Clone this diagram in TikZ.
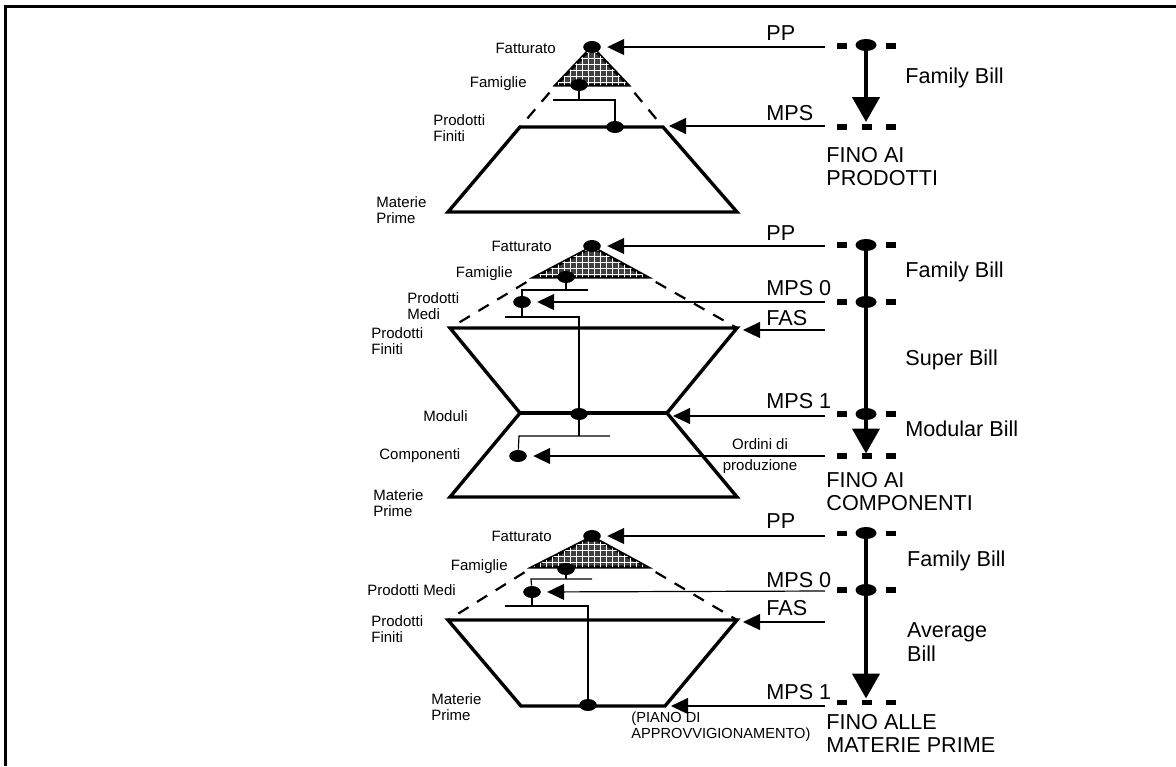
\documentclass[tikz,border=0pt]{standalone}
\usepackage{fontspec}
\setmainfont{Liberation Sans}
\usetikzlibrary{arrows.meta,shapes.geometric,patterns}

\begin{document}
\begin{tikzpicture}[x=0.5pt,y=-0.5pt,
  bomnode/.style={ellipse,fill=black,inner sep=0pt,minimum width=8.8pt,minimum height=6pt},
  railnode/.style={ellipse,fill=black,inner sep=0pt,minimum width=10.5pt,minimum height=6pt},
  lbl/.style={inner sep=0pt,font=\fontsize{7.5}{8}\selectfont,align=left},
  big/.style={inner sep=0pt,font=\fontsize{10.8}{11.6}\selectfont,align=left},
  layer/.style={line width=1.7pt,line join=miter},
  hiddenline/.style={line width=1.1pt,dash pattern=on 6pt off 5pt,dash phase=6pt},
  conn/.style={line width=0.6pt},
  feed/.style={line width=0.6pt,-{Triangle[length=8.5pt,width=8pt]},shorten >=3pt},
  bardash/.style={line width=2.6pt,dash pattern=on 5pt off 7.25pt},
  flow/.style={line width=2.2pt,-{Triangle[length=12.5pt,width=13.5pt]}},
  hatch/.style={draw=black,line width=1.5pt,fill=black!75,postaction={pattern=grid,pattern color=white}}]
\useasboundingbox (0,0) rectangle (1176,766);
\draw[line width=1.6pt] (5.5,766) -- (5.5,6.5) -- (1176,6.5);

\filldraw[hatch] (592,47) -- (628,85) -- (556,85) -- cycle;
\coordinate (t1a) at (520,127);
\coordinate (t1b) at (663,127);
\coordinate (t1c) at (737,212);
\coordinate (t1d) at (448,212);
\draw[hiddenline] (556,85) -- (t1a);
\draw[hiddenline] (628,85) -- (t1b);
\draw[layer] (t1a) -- (t1b) -- (t1c) -- (t1d) -- cycle;

\node[bomnode] (fat1) at (592,47) {};
\node[bomnode] (fam1) at (579,85) {};
\node[bomnode] (pf1) at (615,127) {};
\coordinate (b1l) at (553,100);
\coordinate (b1r) at (615,100);
\draw[conn] (fam1) -- (fam1 |- b1l);
\draw[conn] (b1l) -- (b1r) -- (pf1);

\node[lbl,anchor=east] (l1fat) at (556,48) {Fatturato};
\node[lbl,anchor=east] (l1fam) at (527,84) {Famiglie};
\node[lbl,anchor=west] (l1pf) at (433,128.4) {Prodotti\\Finiti};
\node[lbl,anchor=west] (l1mp) at (376,210.5) {Materie\\Prime};

\coordinate (a1pp) at (825,47);
\coordinate (a1mps) at (825,126);
\draw[feed] (a1pp) -- (fat1);
\draw[feed] (a1mps) -- (a1mps -| t1b);
\node[big,anchor=base west] (l1pp) at (766,40) {PP};
\node[big,anchor=base west] (l1mps) at (766,120.7) {MPS};

\draw[bardash] (837,46) -- (897,46);
\draw[bardash] (837,127) -- (897,127);
\node[railnode] (r1a) at (866,45) {};
\coordinate (r1end) at (866,122);
\draw[flow] (r1a.center) -- (r1end);
\node[big,anchor=west] (l1fb) at (905,78) {Family Bill};
\node[big,anchor=west] (l1fino) at (826,166.5) {FINO AI\\PRODOTTI};

\filldraw[hatch] (592,247) -- (647,277) -- (535,277) -- cycle;
\coordinate (t2a) at (450,328);
\coordinate (t2b) at (737,328);
\coordinate (t2c) at (667,413);
\coordinate (t2d) at (737,497);
\coordinate (t2e) at (450,497);
\coordinate (t2f) at (520,413);
\draw[hiddenline] (535,277) -- (t2a);
\draw[hiddenline] (647,277) -- (t2b);
\draw[layer] (t2a) -- (t2b) -- (t2c) -- (t2d) -- (t2e) -- (t2f) -- cycle;
\draw[layer] (t2f) -- (t2c);

\node[bomnode] (fat2) at (592,246) {};
\node[bomnode] (fam2) at (566,277) {};
\node[bomnode] (med2) at (522,302) {};
\node[bomnode] (mod2) at (579,414) {};
\node[bomnode] (comp2) at (518,456) {};
\coordinate (b2l) at (522,290);
\coordinate (b2r) at (588,290);
\coordinate (b3l) at (505,317);
\coordinate (b3r) at (579,317);
\coordinate (b4l) at (519,436);
\coordinate (b4r) at (610,436);
\draw[conn] (fam2) -- (fam2 |- b2l);
\draw[conn] (b2r) -- (b2l) -- (med2);
\draw[conn] (med2) -- (med2 |- b3l);
\draw[conn] (b3l) -- (b3r) -- (mod2);
\draw[conn] (mod2) -- (mod2 |- b4l);
\draw[conn] (b4r) -- (b4l) -- (comp2);

\node[lbl,anchor=east] (l2fat) at (552,246) {Fatturato};
\node[lbl,anchor=east] (l2fam) at (513,274) {Famiglie};
\node[lbl,anchor=west] (l2med) at (407,305.8) {Prodotti\\Medi};
\node[lbl,anchor=west] (l2pf) at (371,340.8) {Prodotti\\Finiti};
\node[lbl,anchor=west] (l2mod) at (423,416) {Moduli};
\node[lbl,anchor=west] (l2comp) at (379,456) {Componenti};
\node[lbl,anchor=west] (l2mp) at (373,503.5) {Materie\\Prime};

\coordinate (a2pp) at (825,246);
\coordinate (a2mps0) at (825,302);
\coordinate (a2fas) at (825,330);
\coordinate (a2mps1) at (825,416);
\coordinate (a2ord) at (825,456);
\draw[feed] (a2pp) -- (fat2);
\draw[feed] (a2mps0) -- (med2);
\draw[feed] (a2fas) -- (a2fas -| t2b);
\draw[feed] (a2mps1) -- (a2mps1 -| t2c);
\draw[feed] (a2ord) -- (comp2);
\node[big,anchor=base west] (l2pp) at (766,240) {PP};
\node[big,anchor=base west] (l2mps0) at (766,295) {MPS 0};
\node[big,anchor=base west] (l2fas) at (766,325) {FAS};
\node[big,anchor=base west] (l2mps1) at (766,408.3) {MPS 1};
\node[lbl,align=center,font=\fontsize{7.5}{10.8}\selectfont] (l2ord) at (760,456) {Ordini di\\produzione};

\draw[bardash] (837,245) -- (897,245);
\draw[bardash] (837,302) -- (897,302);
\draw[bardash] (837,414) -- (897,414);
\draw[bardash] (837,456) -- (897,456);
\node[railnode] (r2a) at (866,245) {};
\node[railnode] (r2b) at (866,302) {};
\node[railnode] (r2c) at (866,414) {};
\coordinate (r2end) at (866,453.5);
\draw[flow] (r2a.center) -- (r2end);
\node[big,anchor=west] (l2fb) at (905,271.7) {Family Bill};
\node[big,anchor=west] (l2sb) at (905,360) {Super Bill};
\node[big,anchor=west] (l2mb) at (905,428.3) {Modular Bill};
\node[big,anchor=west] (l2fino) at (826,491.5) {FINO AI\\COMPONENTI};

\filldraw[hatch] (592,537) -- (647,567) -- (533,567) -- cycle;
\coordinate (t3a) at (448,620);
\coordinate (t3b) at (737,620);
\coordinate (t3c) at (665,706);
\coordinate (t3d) at (521,706);
\draw[hiddenline] (533,567) -- (t3a);
\draw[hiddenline] (647,567) -- (t3b);
\draw[layer] (t3a) -- (t3b) -- (t3c) -- (t3d) -- cycle;

\node[bomnode] (fat3) at (592,536) {};
\node[bomnode] (fam3) at (566,569) {};
\node[bomnode] (med3) at (532,592) {};
\node[bomnode] (mp3) at (588,705) {};
\coordinate (b5l) at (531,579);
\coordinate (b5r) at (592,579);
\coordinate (b6l) at (505,606);
\coordinate (b6r) at (588,606);
\draw[conn] (fam3) -- (fam3 |- b5l);
\draw[conn] (b5r) -- (b5l) -- (med3);
\draw[conn] (med3) -- (med3 |- b6l);
\draw[conn] (b6l) -- (b6r) -- (mp3);

\node[lbl,anchor=east] (l3fat) at (552,536) {Fatturato};
\node[lbl,anchor=east] (l3fam) at (508,566.7) {Famiglie};
\node[lbl,anchor=west] (l3med) at (367,590) {Prodotti Medi};
\node[lbl,anchor=west] (l3pf) at (371,629.5) {Prodotti\\Finiti};
\node[lbl,anchor=west] (l3mp) at (431,706.7) {Materie\\Prime};
\node[lbl,anchor=west,font=\fontsize{7.3}{8.35}\selectfont] (l3piano) at (631,726.7) {(PIANO DI\\APPROVVIGIONAMENTO)};

\coordinate (a3pp) at (825,536);
\coordinate (a3mps0) at (825,591);
\coordinate (a3fas) at (825,622);
\coordinate (a3mps1) at (825,706);
\draw[feed] (a3pp) -- (fat3);
\draw[feed] (a3mps0) -- (med3);
\draw[feed] (a3fas) -- (a3fas -| t3b);
\draw[feed] (a3mps1) -- (a3mps1 -| t3c);
\node[big,anchor=base west] (l3pp) at (766,528.3) {PP};
\node[big,anchor=base west] (l3mps0) at (766,587) {MPS 0};
\node[big,anchor=base west] (l3fas) at (766,615) {FAS};
\node[big,anchor=base west] (l3mps1) at (766,699.4) {MPS 1};

\draw[bardash] (837,533.3) -- (897,533.3);
\draw[bardash] (837,590) -- (897,590);
\draw[bardash] (837,702.3) -- (897,702.3);
\node[railnode] (r3a) at (866,533) {};
\node[railnode] (r3b) at (866,590) {};
\coordinate (r3end) at (866,698.5);
\draw[flow] (r3a.center) -- (r3end);
\node[big,anchor=west] (l3fb) at (906.7,560.7) {Family Bill};
\node[big,anchor=west] (l3ab) at (906.7,642) {Average\\Bill};
\node[big,anchor=west] (l3fino) at (826,733.3) {FINO ALLE\\MATERIE PRIME};
\end{tikzpicture}
\end{document}
